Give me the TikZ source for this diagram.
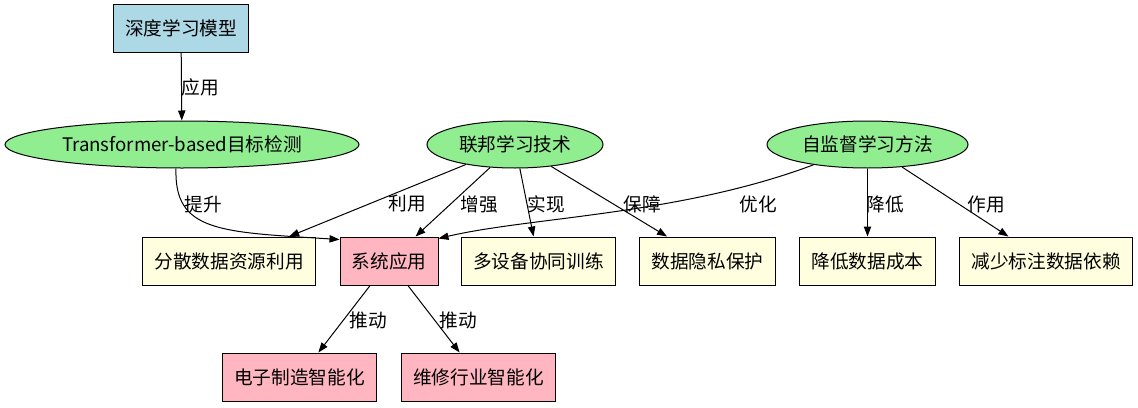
\documentclass[tikz,border=0pt]{standalone}
\usepackage{fontspec}
\setmainfont{Noto Sans CJK SC}
\usetikzlibrary{arrows.meta,shapes.geometric}
\definecolor{boxblue}{HTML}{ADD8E6}
\definecolor{ovalgreen}{HTML}{90EE90}
\definecolor{boxyellow}{HTML}{FFFFE0}
\definecolor{boxpink}{HTML}{FFB6C1}
\tikzset{
  box/.style={draw, line width=0.75pt, minimum height=36pt, inner xsep=8.75pt, inner ysep=0pt},
  oval/.style={draw, ellipse, fill=ovalgreen, line width=0.75pt, minimum height=35.25pt, inner sep=0pt},
  lbl/.style={inner sep=0pt},
  arr/.style={-{Triangle[length=7.5pt,width=5.5pt]}, line width=0.75pt},
}
\begin{document}
\begin{tikzpicture}[x=0.75pt, y=-0.75pt, font=\fontsize{14pt}{16pt}\selectfont]
    \useasboundingbox (0, 0) rectangle (1138, 407);

    % top
    \node [box, fill=boxblue] (deep) at (181, 28.5) {深度学习模型};

    % methods
    \node [oval, minimum width=265.5pt] (trans) at (182, 144.5) {Transformer-based目标检测};
    \node [oval, minimum width=132pt] (fed) at (515, 144.5) {联邦学习技术};
    \node [oval, minimum width=150.75pt] (self) at (867.5, 144.5) {自监督学习方法};

    % effects
    \node [box, fill=boxyellow] (spread) at (229, 261) {分散数据资源利用};
    \node [box, fill=boxpink] (sys) at (389, 261) {系统应用};
    \node [box, fill=boxyellow] (multi) at (538.5, 261) {多设备协同训练};
    \node [box, fill=boxyellow] (priv) at (707.5, 261) {数据隐私保护};
    \node [box, fill=boxyellow] (cost) at (867.5, 261) {降低数据成本};
    \node [box, fill=boxyellow] (less) at (1046, 261) {减少标注数据依赖};

    % industry
    \node [box, fill=boxpink] (elec) at (299.5, 377) {电子制造智能化};
    \node [box, fill=boxpink] (repair) at (478.5, 377) {维修行业智能化};

    \draw [arr] (deep) -- (trans) node [lbl] at (200, 87.5) {应用};
    \draw [arr] ([xshift=-4.5pt]trans.south) .. controls (174, 232) and (220, 232) .. ([yshift=-2.25pt]sys.north west)
        node [lbl] at (203, 204) {提升};

    \draw [arr] (fed) -- (spread) node [lbl] at (407.5, 204) {利用};
    \draw [arr] (fed) -- (sys) node [lbl] at (479, 204) {增强};
    \draw [arr] (fed) -- (multi) node [lbl] at (546.5, 204) {实现};
    \draw [arr] (fed) -- (priv) node [lbl] at (642.5, 204) {保障};

    \draw [arr] (self) .. controls (680, 215) and (530, 217) .. ([yshift=-1.5pt]sys.north east)
        node [lbl] at (758.5, 204) {优化};
    \draw [arr] (self) -- (cost) node [lbl] at (885.5, 204) {降低};
    \draw [arr] (self) -- (less) node [lbl] at (986, 204) {作用};

    \draw [arr] (sys) -- (elec) node [lbl] at (368, 320) {推动};
    \draw [arr] (sys) -- (repair) node [lbl] at (458.5, 320) {推动};
\end{tikzpicture}
\end{document}
